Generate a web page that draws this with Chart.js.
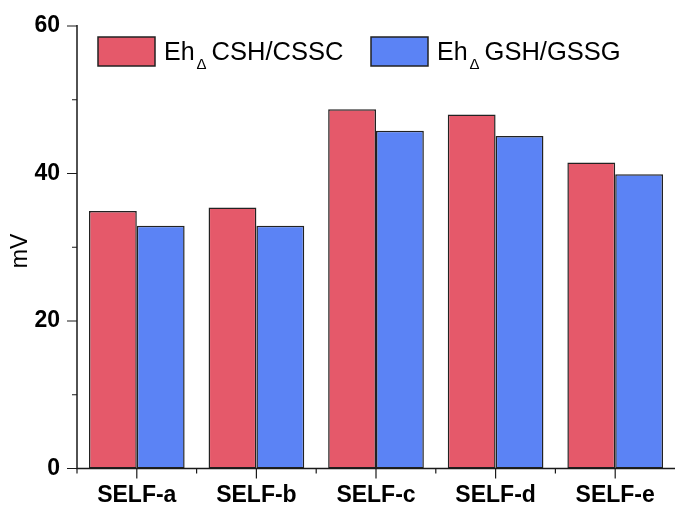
<!DOCTYPE html>
<html>
<head>
<meta charset="utf-8">
<script src="https://cdn.jsdelivr.net/npm/chart.js@4.4.0/dist/chart.umd.min.js"></script>
<style>
  body { margin: 0; background: #fff; }
  #wrap { width: 675px; height: 505px; }
</style>
</head>
<body>
<div id="wrap"><canvas id="myChart"></canvas></div>
<script>
// data
var samples = ["SELF-a", "SELF-b", "SELF-c", "SELF-d", "SELF-e"]
var cshValues = [34.9, 35.4, 48.7, 48.0, 41.5]
var gshValues = [32.9, 32.9, 45.8, 45.1, 39.9]
var yTicks = [0, 20, 40, 60]
var seriesNames = [["Eh", "\u0394", "CSH/CSSC"], ["Eh", "\u0394", "GSH/GSSG"]]
var yTitle = "mV"

var FONT = "'Liberation Sans', Arial, sans-serif"
var INK = "#1a1a1a"

// axis lines, major + minor ticks, y title and legend
var decor = {
  id: "decor",
  afterDraw: function(chart){
    var ctx = chart.ctx
    var area = chart.chartArea
    var x = chart.scales.x, y = chart.scales.y
    ctx.save()
    ctx.strokeStyle = INK
    ctx.lineWidth = 1.5
    ctx.beginPath()
    ctx.moveTo(area.left, area.top - 1)
    ctx.lineTo(area.left, area.bottom)
    ctx.lineTo(area.right, area.bottom)
    ctx.stroke()

    ctx.lineWidth = 1.2
    ctx.beginPath()
    for (var v = 0; v <= 60; v += 10) {
      var py = y.getPixelForValue(v)
      var len = (v % 20 === 0) ? 10 : 5
      ctx.moveTo(area.left - len, py)
      ctx.lineTo(area.left, py)
    }
    var half = (x.getPixelForValue(1) - x.getPixelForValue(0)) / 2
    for (var i = 0; i < samples.length; i++) {
      var px = x.getPixelForValue(i)
      ctx.moveTo(px, area.bottom)
      ctx.lineTo(px, area.bottom + 10)
      ctx.moveTo(px - half, area.bottom)
      ctx.lineTo(px - half, area.bottom + 5)
    }
    ctx.stroke()

    // y title
    ctx.fillStyle = "#000"
    ctx.font = "23px " + FONT
    ctx.textAlign = "center"
    ctx.textBaseline = "middle"
    ctx.translate(21, 251)
    ctx.rotate(-Math.PI / 2)
    ctx.fillText(yTitle, 0, 0)
    ctx.restore()

    // legend
    ctx.save()
    var boxX = [98, 371]
    chart.data.datasets.forEach(function(ds, k){
      var bx = boxX[k]
      ctx.fillStyle = ds.backgroundColor
      ctx.fillRect(bx, 37, 57, 29)
      ctx.strokeStyle = ds.borderColor
      ctx.lineWidth = 1.5
      ctx.strokeRect(bx, 37, 57, 29)
      var parts = seriesNames[k]
      ctx.fillStyle = "#000"
      ctx.textBaseline = "alphabetic"
      ctx.textAlign = "left"
      var tx = bx + 66
      ctx.font = "25px " + FONT
      ctx.fillText(parts[0], tx, 60)
      tx += ctx.measureText(parts[0]).width + 2
      ctx.font = "15px " + FONT
      ctx.fillText(parts[1], tx, 69)
      tx += ctx.measureText(parts[1]).width + 5
      ctx.font = "25.5px " + FONT
      ctx.fillText(parts[2], tx, 60)
    })
    ctx.restore()
  }
}

var chart = new Chart(document.getElementById("myChart"), {
  type: "bar",
  data: {
    labels: samples,
    datasets: [
      {
        label: seriesNames[0].join(""),
        data: cshValues,
        backgroundColor: "#e5596a",
        borderColor: "#222222",
        borderWidth: 1.5,
        borderSkipped: false,
        categoryPercentage: 0.8,
        barPercentage: 1.0
      },
      {
        label: seriesNames[1].join(""),
        data: gshValues,
        backgroundColor: "#5b83f5",
        borderColor: "#222222",
        borderWidth: 1.5,
        borderSkipped: false,
        categoryPercentage: 0.8,
        barPercentage: 1.0
      }
    ]
  },
  options: {
    responsive: true,
    maintainAspectRatio: false,
    animation: false,
    layout: { padding: { top: 26, right: 0, left: 0, bottom: 0 } },
    plugins: { legend: { display: false }, tooltip: { enabled: false } },
    scales: {
      x: {
        offset: true,
        grid: { display: false, drawTicks: false },
        border: { display: false },
        ticks: { color: "#000", padding: 13, font: { family: FONT, size: 23, weight: "bold" } },
        afterFit: function(s){ s.height = 36.5; s.paddingLeft = 0; s.paddingRight = 0 }
      },
      y: {
        min: 0,
        max: 60,
        grid: { display: false, drawTicks: false },
        border: { display: false },
        afterBuildTicks: function(s){ s.ticks = yTicks.map(function(v){ return { value: v } }) },
        ticks: { color: "#000", padding: 17, font: { family: FONT, size: 23, weight: "bold" } },
        afterFit: function(s){ s.width = 77; s.paddingTop = 0; s.paddingBottom = 0 }
      }
    }
  },
  plugins: [decor]
})
</script>
</body>
</html>
